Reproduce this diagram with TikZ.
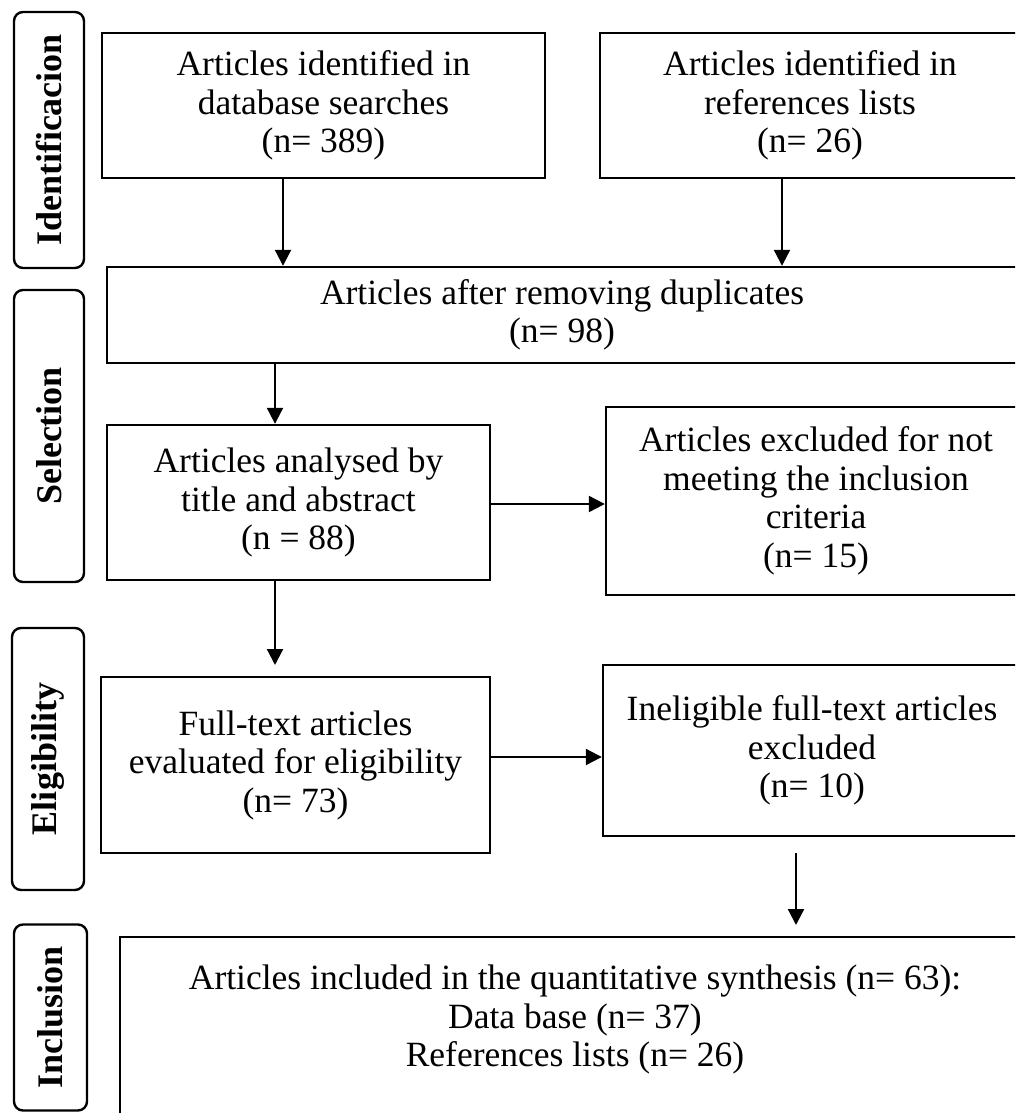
\documentclass[tikz,border=0pt]{standalone}
\usepackage{fontspec}
\setmainfont{Liberation Serif}
\usetikzlibrary{arrows.meta}
\tikzset{
  box/.style={draw, line width=2.4pt, align=center, inner sep=0pt,
    font=\fontsize{35.5}{38.5}\selectfont},
  pill/.style={draw, line width=2.4pt, rounded corners=9pt, rotate=90, inner sep=0pt,
    font=\fontsize{36}{40}\selectfont\bfseries},
  arr/.style={line width=2.2pt, -{Triangle[width=16pt,length=16pt]}}
}
\begin{document}
\begin{tikzpicture}[x=1pt,y=-1pt]
\useasboundingbox (0,0) rectangle (1015,1113);
\clip (0,0) rectangle (1015,1113);
\fill[white] (0,0) rectangle (1015,1113);
% stage labels
\node[pill, minimum width=256pt, minimum height=70pt] (p1) at (49,140) {Identificacion};
\node[pill, minimum width=292pt, minimum height=70pt] (p2) at (49,436) {Selection};
\node[pill, minimum width=262pt, minimum height=72pt] (p3) at (48,759) {Eligibility};
\node[pill, minimum width=186pt, minimum height=73pt] (p4) at (50.5,1017.5) {Inclusion};
% boxes
\node[box, minimum width=443pt, minimum height=145pt] (id1) at (323.5,105.5)
  {Articles identified in\\database searches\\(n= 389)};
\node[box, minimum width=420pt, minimum height=145pt] (id2) at (810,105.5)
  {Articles identified in\\references lists\\(n= 26)};
\node[box, minimum width=910pt, minimum height=96pt] (dup) at (562,315)
  {Articles after removing duplicates\\(n= 98)};
\node[box, minimum width=383pt, minimum height=155pt] (ana) at (298.5,502.5)
  {Articles analysed by\\title and abstract\\(n = 88)};
\node[box, minimum width=420pt, minimum height=188pt] (exc) at (816,501)
  {Articles excluded for not\\meeting the inclusion\\criteria\\(n= 15)};
\node[box, minimum width=389pt, minimum height=176pt] (full) at (295.5,765)
  {Full-text articles\\evaluated for eligibility\\(n= 73)};
\node[box, minimum width=418pt, minimum height=171pt] (inel) at (812,750.5)
  {Ineligible full-text articles\\excluded\\(n= 10)};
\node[box, minimum width=910pt, minimum height=186pt] (incl) at (575,1030)
  {Articles included in the quantitative synthesis (n= 63):\\Data base (n= 37)\\References lists (n= 26)\\[-10pt]};
% connectors
\coordinate (c1) at (283,0);
\coordinate (c2) at (782,0);
\coordinate (c3) at (275,0);
\coordinate (e1) at (275,665);
\coordinate (h1) at (0,504);
\coordinate (h2) at (0,757);
\coordinate (f1) at (796,853);
\coordinate (f2) at (796,925);
\draw[arr] (id1.south -| c1) -- (dup.north -| c1);
\draw[arr] (id2.south -| c2) -- (dup.north -| c2);
\draw[arr] (dup.south -| c3) -- (ana.north -| c3);
\draw[arr] (ana.south -| e1) -- (e1);
\draw[arr] (ana.east |- h1) -- (exc.west |- h1);
\draw[arr] (full.east |- h2) -- (inel.west |- h2);
\draw[arr] (f1) -- (f2);
\end{tikzpicture}
\end{document}
